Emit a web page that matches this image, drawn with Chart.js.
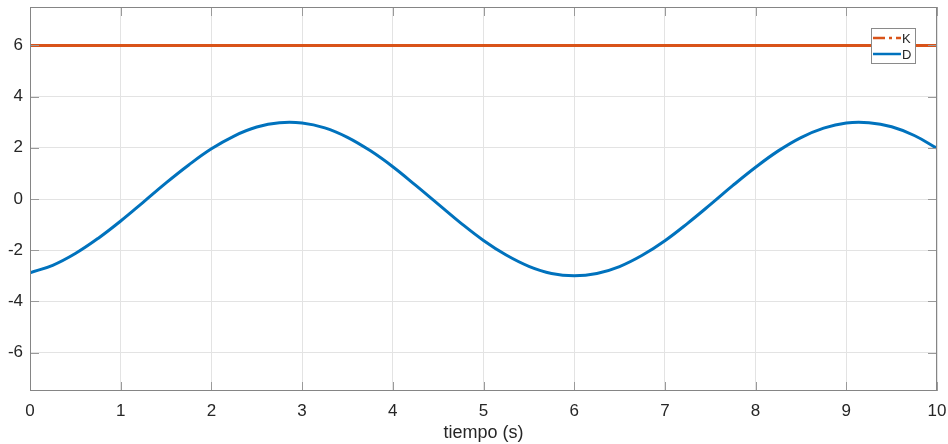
<!DOCTYPE html>
<html>
<head>
<meta charset="utf-8">
<script src="https://cdn.jsdelivr.net/npm/chart.js@4"></script>
<style>
  body { margin: 0; background: #fff; }
</style>
</head>
<body>
<canvas id="grafico" width="948" height="444"></canvas>
<script>
// Datos de la simulación
const tiempo = [0, 0.25, 0.5, 0.75, 1, 1.25, 1.5, 1.75, 2, 2.25, 2.5, 2.75, 3, 3.25, 3.5, 3.75,
    4, 4.25, 4.5, 4.75, 5, 5.25, 5.5, 5.75, 6, 6.25, 6.5, 6.75, 7, 7.25, 7.5, 7.75,
    8, 8.25, 8.5, 8.75, 9, 9.25, 9.5, 9.75, 10];
const valoresD = [-2.88, -2.59, -2.13, -1.54, -0.86, -0.12, 0.63, 1.33, 1.96, 2.46, 2.81, 2.98,
    2.97, 2.78, 2.41, 1.89, 1.26, 0.54, -0.20, -0.94, -1.62, -2.19, -2.63, -2.91, -3.00,
    -2.91, -2.64, -2.20, -1.63, -0.95, -0.22, 0.53, 1.24, 1.88, 2.40, 2.77, 2.97, 2.98,
    2.82, 2.48, 1.98];
const tiempoK = [0, 10];
const valoresK = [6, 6];

const ticksX = [0, 1, 2, 3, 4, 5, 6, 7, 8, 9, 10];
const ticksY = [-6, -4, -2, 0, 2, 4, 6];

const AZUL = "#0072BD";
const NARANJA = "#D95319";
const FUENTE = "'Liberation Sans', Arial, sans-serif";

// Caja de ejes, marcas interiores y leyenda
const marcoPlugin = {
    id: "marco",
    afterDatasetsDraw(chart) {
        const { ctx, chartArea: a, scales } = chart;
        ctx.save();

        // marcas hacia dentro en los cuatro lados
        ctx.strokeStyle = "#9a9a9a";
        ctx.lineWidth = 1;
        ctx.beginPath();
        ticksX.forEach(v => {
            const px = Math.round(scales.x.getPixelForValue(v)) + 0.5;
            ctx.moveTo(px, a.bottom); ctx.lineTo(px, a.bottom - 9);
            ctx.moveTo(px, a.top); ctx.lineTo(px, a.top + 9);
        });
        ticksY.forEach(v => {
            const py = Math.round(scales.y.getPixelForValue(v)) + 0.5;
            ctx.moveTo(a.left, py); ctx.lineTo(a.left + 9, py);
            ctx.moveTo(a.right, py); ctx.lineTo(a.right - 9, py);
        });
        ctx.stroke();

        // caja
        ctx.strokeStyle = "#858585";
        ctx.strokeRect(Math.round(a.left) + 0.5, Math.round(a.top) + 0.5,
            Math.round(a.width) - 1, Math.round(a.height) - 1);

        // leyenda
        const lx = Math.round(a.right) - 66;
        const ly = Math.round(a.top) + 21;
        ctx.fillStyle = "#fff";
        ctx.fillRect(lx, ly, 45, 36);
        ctx.strokeStyle = "#8a8a8a";
        ctx.strokeRect(lx + 0.5, ly + 0.5, 44, 35);

        const sets = chart.data.datasets;
        const filas = [ly + 10, ly + 26];
        ctx.lineWidth = 2.5;
        sets.forEach((ds, i) => {
            ctx.strokeStyle = ds.borderColor;
            ctx.setLineDash(i === 0 ? [12, 4, 3, 4] : []);
            ctx.beginPath();
            ctx.moveTo(lx + 2, filas[i]);
            ctx.lineTo(lx + 30, filas[i]);
            ctx.stroke();
            ctx.setLineDash([]);
            ctx.fillStyle = "#262626";
            ctx.font = "13px " + FUENTE;
            ctx.textBaseline = "middle";
            ctx.fillText(ds.label, lx + 31, filas[i] + 1);
        });

        ctx.restore();
    }
};

new Chart(document.getElementById("grafico"), {
    type: "line",
    data: {
        datasets: [
            {
                label: "K",
                data: tiempoK.map((t, i) => ({ x: t, y: valoresK[i] })),
                borderColor: NARANJA,
                borderWidth: 3,
                pointRadius: 0
            },
            {
                label: "D",
                data: tiempo.map((t, i) => ({ x: t, y: valoresD[i] })),
                borderColor: AZUL,
                borderWidth: 3,
                pointRadius: 0,
                tension: 0.4
            }
        ]
    },
    options: {
        responsive: false,
        devicePixelRatio: 1,
        animation: false,
        layout: { padding: { top: 7, right: 11, left: 0, bottom: 0 } },
        plugins: {
            legend: { display: false },
            tooltip: { enabled: false }
        },
        scales: {
            x: {
                type: "linear",
                min: 0,
                max: 10,
                afterBuildTicks: s => { s.ticks = ticksX.map(v => ({ value: v })); },
                afterFit: s => {
                    s.height = 53;
                    s.paddingLeft = 0;
                    s.paddingRight = 0;
                },
                grid: { color: "#e3e3e3", drawTicks: false },
                border: { display: false },
                ticks: {
                    padding: 10,
                    color: "#262626",
                    font: { family: FUENTE, size: 17 },
                    maxRotation: 0
                },
                title: {
                    display: true,
                    text: "tiempo (s)",
                    color: "#262626",
                    font: { family: FUENTE, size: 18 },
                    padding: { top: 0, bottom: 0 }
                }
            },
            y: {
                min: -7.5,
                max: 7.5,
                afterBuildTicks: s => { s.ticks = ticksY.map(v => ({ value: v })); },
                afterFit: s => {
                    s.width = 30;
                    s.paddingTop = 0;
                    s.paddingBottom = 0;
                },
                grid: { color: "#e3e3e3", drawTicks: false },
                border: { display: false },
                ticks: {
                    padding: 7,
                    color: "#262626",
                    font: { family: FUENTE, size: 17 }
                }
            }
        }
    },
    plugins: [marcoPlugin]
});
</script>
</body>
</html>
